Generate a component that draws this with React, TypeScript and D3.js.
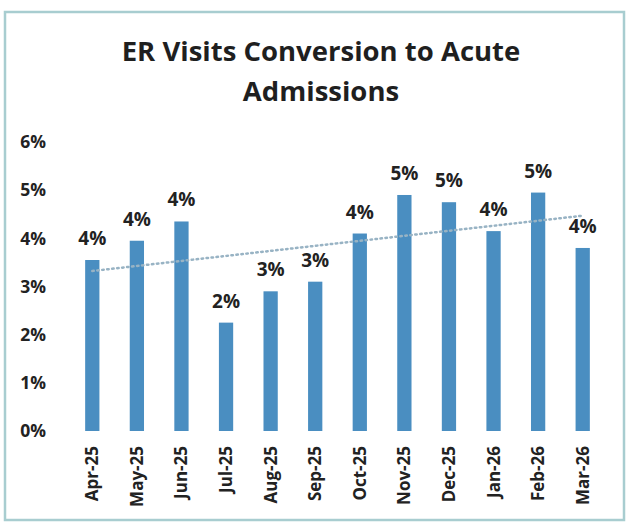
import React from "react";
import * as d3 from "d3";

// monthly ER -> acute admission conversion rate (%)
const months = ["Apr-25", "May-25", "Jun-25", "Jul-25", "Aug-25", "Sep-25", "Oct-25", "Nov-25", "Dec-25", "Jan-26", "Feb-26", "Mar-26"];
const rates = [3.55, 3.95, 4.35, 2.25, 2.9, 3.1, 4.1, 4.9, 4.75, 4.15, 4.95, 3.8];
const yTicks = [0, 1, 2, 3, 4, 5, 6];
const titleLines = ["ER Visits Conversion to Acute", "Admissions"];

const W = 631;
const H = 529;
const FONT = "'Open Sans', 'Noto Sans', sans-serif";

export default function App() {
  const x = d3.scaleBand<string>()
    .domain(months)
    .range([70, 605])
    .paddingInner(0.68)
    .paddingOuter(0.34);

  const y = d3.scaleLinear().domain([0, 6]).range([431, 142]);

  // linear trendline (least squares), like the spreadsheet one
  const idx = rates.map((_, i) => i);
  const mx = d3.mean(idx)!;
  const my = d3.mean(rates)!;
  const slope = d3.sum(idx, (i) => (i - mx) * (rates[i] - my)) / d3.sum(idx, (i) => (i - mx) ** 2);
  const icpt = my - slope * mx;
  const trend = d3.line<number>()
    .x((i) => x(months[i])! + x.bandwidth() / 2)
    .y((i) => y(icpt + slope * i));

  const fmt = (v: number) => `${Math.round(v)}%`;

  return (
    <div style={{ position: "absolute", left: 0, top: 0 }}>
      <svg width={W} height={H} style={{ display: "block", background: "#fff" }}>
        <rect x={5} y={12} width={619} height={508} fill="#fff" stroke="#a8cdd0" strokeWidth={2.5} />

        {titleLines.map((t, i) => (
          <text key={t} x={321} y={61 + i * 40} textAnchor="middle" fontFamily={FONT} fontWeight={700} fontSize={27.5} fill="#1f1f1f">
            {t}
          </text>
        ))}

        {yTicks.map((t) => (
          <text key={t} x={46} y={y(t)} dy="0.36em" textAnchor="end" fontFamily={FONT} fontWeight={700} fontSize={17.5} fill="#222">
            {t}%
          </text>
        ))}

        {rates.map((v, i) => (
          <rect key={months[i]} x={x(months[i])} y={y(v)} width={x.bandwidth()} height={y(0) - y(v)} fill="#4a8ec1" />
        ))}

        <path d={trend(idx) ?? ""} fill="none" stroke="#98b3c4" strokeWidth={2.5} strokeDasharray="1.5 3.5" strokeLinecap="round" />

        {rates.map((v, i) => (
          <text key={"l" + i} x={x(months[i])! + x.bandwidth() / 2} y={y(v) - 15} textAnchor="middle" fontFamily={FONT} fontWeight={700} fontSize={19} fill="#222">
            {fmt(v)}
          </text>
        ))}

        {months.map((m) => (
          <text
            key={m}
            transform={`translate(${x(m)! + x.bandwidth() / 2 + 6},446) rotate(-90)`}
            textAnchor="end"
            fontFamily={FONT}
            fontWeight={700}
            fontSize={17}
            fill="#222"
          >
            {m}
          </text>
        ))}
      </svg>
    </div>
  );
}
